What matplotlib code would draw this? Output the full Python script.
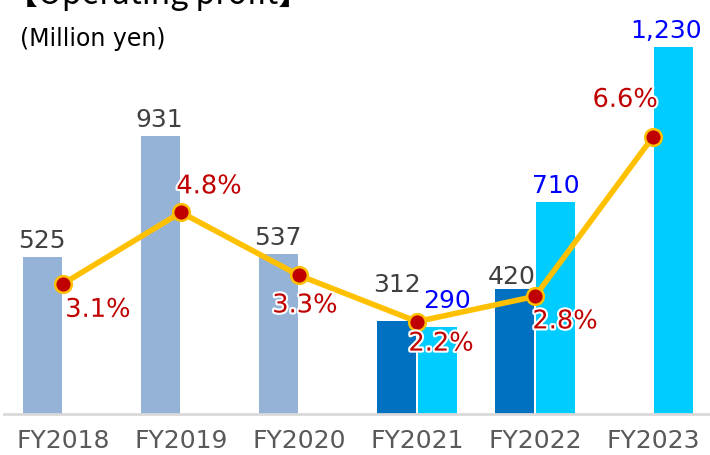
import numpy as np
import matplotlib
matplotlib.use("Agg")
import matplotlib.pyplot as plt
import matplotlib.patheffects as pe

categories = ["FY2018", "FY2019", "FY2020", "FY2021", "FY2022", "FY2023"]
results = [525, 931, 537, 312, 420, np.nan]
forecast = [np.nan, np.nan, np.nan, 290, 710, 1230]
margin = [3.1, 4.8, 3.3, 2.2, 2.8, 6.6]
result_colors = ["#95B3D7", "#95B3D7", "#95B3D7", "#0070C0", "#0070C0", "#0070C0"]
# label offsets (pixels)
pct_offsets = [(35, -26), (28, 26), (6, -30), (24, -22), (30, -25), (-28, 37)]
res_lbl_off = [(-1, 4), (-1, 4), (-1, 4), (1, 24), (-3, 0), (0, 0)]
fc_lbl_off = [(0, 0), (0, 0), (0, 0), (9, 14), (0, 4), (-7, 4)]

fig = plt.figure(figsize=(7.10, 4.55), dpi=100)
W, H = 710, 455
ax = fig.add_axes([4 / W, (H - 414) / H, 708 / W, 414 / H])
ax2 = ax.twinx()

x = np.arange(len(categories))
bw = 0.325
off = 0.174

res = np.array(results, dtype=float)
fc = np.array(forecast, dtype=float)
ax.bar(x - off, res, width=bw, color=result_colors, zorder=2)
ax.bar(x + off, fc, width=bw, color="#00CCFF", zorder=2)

for i in range(len(x)):
    if not np.isnan(res[i]):
        dx, dy = res_lbl_off[i]
        ax.annotate(f"{int(res[i]):,}", (x[i] - off, res[i]), xytext=(dx * 0.72, dy * 0.72),
                    textcoords="offset points", ha="center", va="bottom",
                    fontsize=18, color="#404040")
    if not np.isnan(fc[i]):
        dx, dy = fc_lbl_off[i]
        ax.annotate(f"{int(fc[i]):,}", (x[i] + off, fc[i]), xytext=(dx * 0.72, dy * 0.72),
                    textcoords="offset points", ha="center", va="bottom",
                    fontsize=18, color="#0000FF")

ax.set_xlim(-0.5, 5.5)
ax.set_ylim(0, 414 / 0.2985)
ax2.set_ylim(0, 414 / 42)

ax2.plot(x, margin, color="#FFC000", lw=4, zorder=3, solid_capstyle="round")
ax2.plot(x, margin, "o", ms=12, mfc="#C00000", mec="#FFC000", mew=1.8, zorder=4)
for i in range(len(x)):
    dx, dy = pct_offsets[i]
    t = ax2.annotate(f"{margin[i]}%", (x[i], margin[i]), xytext=(dx * 0.72, dy * 0.72),
                     textcoords="offset points", ha="center", va="center",
                     fontsize=18.5, color="#C00000", zorder=5)
    t.set_path_effects([pe.withStroke(linewidth=3, foreground="white")])

for a in (ax, ax2):
    for s in a.spines.values():
        s.set_visible(False)
    a.set_yticks([])
ax.spines["bottom"].set_visible(True)
ax.spines["bottom"].set_color("#D9D9D9")
ax.spines["bottom"].set_linewidth(2)
ax.set_xticks(x)
ax.set_xticklabels(categories, fontsize=18, color="#595959")
ax.tick_params(axis="x", length=0, pad=11)
ax.patch.set_visible(False)

fig.text(6 / W, 1 - 4 / H, "【Operating profit】", fontsize=23, color="black",
         ha="left", va="baseline", family=["Noto Sans CJK JP", "DejaVu Sans"])
fig.text(20 / W, 1 - 39 / H, "(Million yen)", fontsize=17, color="black",
         ha="left", va="center")

fig.savefig("out.png", dpi=100)
